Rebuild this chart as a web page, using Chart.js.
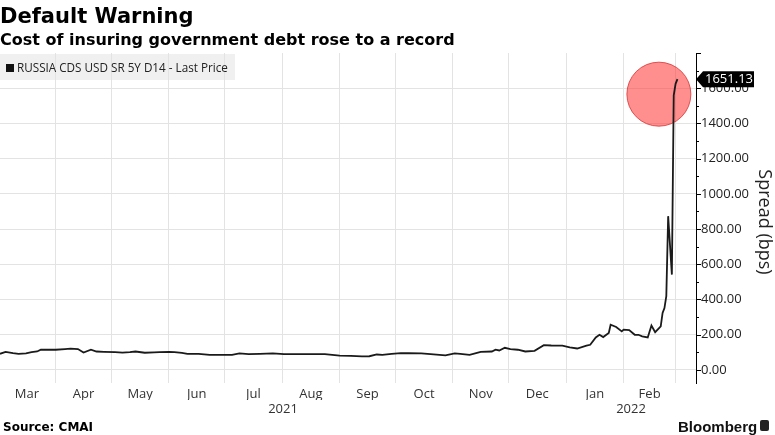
<!DOCTYPE html>
<html>
<head>
<meta charset="utf-8">
<script src="https://cdn.jsdelivr.net/npm/chart.js@4"></script>
<style>
html,body{margin:0;padding:0;background:#fff;}
#wrap{position:relative;width:775px;height:435px;overflow:hidden;}
#c{position:absolute;left:0;top:0;}
.t{position:absolute;white-space:nowrap;color:#000;}
#title{left:0px;top:6px;font:bold 21px/21px "DejaVu Sans";}
#sub{left:0px;top:32px;font:bold 16px/16px "DejaVu Sans";}
#legend{left:0;top:54px;height:26px;font:11.7px/26px "Open Sans";color:#222;}
#legend i{display:inline-block;width:8px;height:8px;background:#111;margin:0 3px 0 6px;vertical-align:0px;}
#src{left:3px;top:421px;font:bold 12px/12px "DejaVu Sans";}
#bbg{left:678px;top:419px;font:bold 15px/15px "Liberation Sans";color:#111;}
#logo{position:absolute;left:760px;top:420px;width:9px;height:11px;background:#222;border-radius:2px;}
</style>
</head>
<body>
<div id="wrap">
<canvas id="c" width="775" height="435"></canvas>
<div class="t" id="title">Default Warning</div>
<div class="t" id="sub">Cost of insuring government debt rose to a record</div>
<div class="t" id="legend"><i></i>RUSSIA CDS USD SR 5Y D14 - Last Price</div>
<div class="t" id="src">Source: CMAI</div>
<div class="t" id="bbg">Bloomberg</div>
<div id="logo"></div>
</div>
<script>
// ---- data ----
const dates = [
 '2021-03-02','2021-03-05','2021-03-09','2021-03-12','2021-03-16','2021-03-19','2021-03-22','2021-03-24','2021-03-29',
 '2021-04-01','2021-04-06','2021-04-09','2021-04-13','2021-04-16','2021-04-20','2021-04-23','2021-04-27',
 '2021-05-03','2021-05-07','2021-05-11','2021-05-14','2021-05-19','2021-05-24','2021-05-27',
 '2021-06-01','2021-06-04','2021-06-08','2021-06-11','2021-06-17','2021-06-23','2021-06-29',
 '2021-07-05','2021-07-09','2021-07-14','2021-07-20','2021-07-27',
 '2021-08-02','2021-08-10','2021-08-17','2021-08-24',
 '2021-09-01','2021-09-07','2021-09-13','2021-09-17','2021-09-21','2021-09-24','2021-09-29',
 '2021-10-04','2021-10-08','2021-10-15','2021-10-20','2021-10-28',
 '2021-11-02','2021-11-05','2021-11-10','2021-11-16','2021-11-22','2021-11-24','2021-11-26','2021-11-29',
 '2021-12-02','2021-12-06','2021-12-10','2021-12-15','2021-12-20','2021-12-24','2021-12-30',
 '2022-01-03','2022-01-07','2022-01-12','2022-01-14','2022-01-17','2022-01-19','2022-01-21','2022-01-24','2022-01-25','2022-01-28','2022-01-31',
 '2022-02-01','2022-02-04','2022-02-07','2022-02-09','2022-02-11','2022-02-14','2022-02-16','2022-02-18','2022-02-21','2022-02-22','2022-02-23','2022-02-24','2022-02-25','2022-02-27','2022-02-28',
 '2022-03-01','2022-03-02'
];
const spread = [
 91,102,95,91,93,100,104,114,114,
 114,118,120,118,98,114,104,102,
 100,98,100,104,97,99,100,
 101,100,96,91,91,85,85,
 85,93,89,91,93,
 89,89,89,89,
 80,79,76,77,87,85,91,
 95,94,93,89,82,
 93,90,85,102,104,114,110,125,
 118,114,104,108,140,138,137,
 127,121,137,142,184,199,186,209,256,243,218,
 228,226,199,199,190,184,252,214,247,323,351,418,873,541,1560,
 1625,1651.13
];
const monthLabels = ['Mar','Apr','May','Jun','Jul','Aug','Sep','Oct','Nov','Dec','Jan','Feb'];
const monthStarts = ['2021-03-01','2021-04-01','2021-05-01','2021-06-01','2021-07-01','2021-08-01','2021-09-01','2021-10-01','2021-11-01','2021-12-01','2022-01-01','2022-02-01','2022-03-01'];
const yearLabels = ['2021','2022'];
const yearStarts = ['2021-01-01','2022-01-01','2023-01-01'];
const viewStart = '2021-03-02', viewEnd = '2022-03-12';
const yTickValues = [0,100,200,300,400,500,600,700,800,900,1000,1100,1200,1300,1400,1500,1600,1700,1800];
const yMin = -75, yMax = 1800;
const yTitle = 'Spread (bps)';
const markerDate = '2022-02-20', markerValue = 1566;

// ---- helpers ----
const DAY = 86400000, BASE = Date.UTC(2021,2,1);
function dayOf(s){const p=s.split('-').map(Number);return (Date.UTC(p[0],p[1]-1,p[2])-BASE)/DAY;}
const xMin = dayOf(viewStart), xMax = dayOf(viewEnd);
const gridDays = monthStarts.map(dayOf).filter(d=>d>xMin && d<xMax);
const monthMid = monthLabels.map((_,i)=>(dayOf(monthStarts[i])+dayOf(monthStarts[i+1]))/2);
const yearMid = yearLabels.map((_,i)=>(Math.max(xMin,dayOf(yearStarts[i]))+Math.min(xMax,dayOf(yearStarts[i+1])))/2);
const points = dates.map((d,i)=>({x:dayOf(d),y:spread[i]}));

const GRID = '#e3e3e3';
const FONT = 'Open Sans';

function noPad(s){s.paddingLeft=0;s.paddingRight=0;s.paddingTop=0;s.paddingBottom=0;}

const deco = {
  id:'deco',
  beforeDraw(chart){
    const ctx=chart.ctx; ctx.save();
    ctx.fillStyle='#f0f0f0'; ctx.fillRect(0,54,235,26);
    ctx.restore();
  },
  afterDraw(chart){
    const ctx=chart.ctx, y=chart.scales.y, x0=y.left;
    ctx.save();
    ctx.strokeStyle='#000'; ctx.lineWidth=1;
    yTickValues.forEach(v=>{
      const py=Math.round(y.getPixelForValue(v))+0.5;
      const len = v%200===0?5:3;
      ctx.beginPath(); ctx.moveTo(x0,py); ctx.lineTo(x0+len,py); ctx.stroke();
    });
    const last = spread[spread.length-1];
    const py = y.getPixelForValue(last);
    ctx.fillStyle='#000';
    ctx.beginPath();
    ctx.moveTo(x0,py); ctx.lineTo(x0+7,py-8); ctx.lineTo(x0+58,py-8); ctx.lineTo(x0+58,py+8); ctx.lineTo(x0+7,py+8); ctx.closePath(); ctx.fill();
    ctx.fillStyle='#fff'; ctx.font='13px "'+FONT+'"'; ctx.textBaseline='middle'; ctx.textAlign='left';
    ctx.fillText(last.toFixed(2), x0+9, py+0.5);
    // axis title
    ctx.fillStyle='#222'; ctx.font='18px "'+FONT+'"'; ctx.textAlign='center';
    ctx.translate(764, (y.top+y.bottom)/2+4); ctx.rotate(Math.PI/2);
    ctx.fillText(yTitle, 0, 0);
    ctx.restore();
  }
};

new Chart(document.getElementById('c'), {
  type:'line',
  data:{datasets:[
    {data:points, borderColor:'#1a1a1a', borderWidth:1.8, pointRadius:0, tension:0, fill:false},
    {type:'scatter', data:[{x:dayOf(markerDate), y:markerValue}], pointRadius:32, pointHoverRadius:32,
     backgroundColor:'rgba(255,60,60,0.58)', borderColor:'rgba(215,50,50,0.8)', borderWidth:1}
  ]},
  options:{
    responsive:false, animation:false, devicePixelRatio:1,
    layout:{autoPadding:false, padding:{top:53,left:0,right:0,bottom:18}},
    plugins:{legend:{display:false}, tooltip:{enabled:false}},
    events:[],
    scales:{
      x:{type:'linear', position:'bottom', min:xMin, max:xMax, weight:0,
        afterBuildTicks:s=>{s.ticks=gridDays.map(v=>({value:v}));},
        ticks:{display:false},
        grid:{color:GRID, lineWidth:1, drawTicks:false},
        border:{display:false},
        afterFit:s=>{s.height=0;noPad(s);}},
      xm:{type:'linear', position:'bottom', min:xMin, max:xMax, weight:1,
        afterBuildTicks:s=>{s.ticks=monthMid.map(v=>({value:v}));},
        ticks:{autoSkip:false, maxRotation:0, padding:3, color:'#333', font:{family:FONT,size:13}, callback:(v,i)=>monthLabels[i]},
        grid:{display:false, drawTicks:false}, border:{display:false},
        afterFit:s=>{s.height=17;noPad(s);}},
      xy:{type:'linear', position:'bottom', min:xMin, max:xMax, weight:2,
        afterBuildTicks:s=>{s.ticks=yearMid.map(v=>({value:v}));},
        ticks:{autoSkip:false, maxRotation:0, padding:1, color:'#333', font:{family:FONT,size:13}, callback:(v,i)=>yearLabels[i]},
        grid:{display:false, drawTicks:false}, border:{display:false},
        afterFit:s=>{s.height=17;noPad(s);}},
      y:{type:'linear', position:'right', min:yMin, max:yMax,
        afterBuildTicks:s=>{s.ticks=yTickValues.map(v=>({value:v}));},
        ticks:{autoSkip:false, padding:5, color:'#222', font:{family:FONT,size:13},
          callback:v=>(v%200===0 && v<yMax)?v.toFixed(2):''},
        grid:{drawTicks:false, color:c=>(c.tick && c.tick.value%200===0 && c.tick.value<yMax)?GRID:'rgba(0,0,0,0)'},
        border:{display:true, color:'#000', width:1},
        afterFit:s=>{s.width=79;noPad(s);}}
    }
  },
  plugins:[deco]
});
</script>
</body>
</html>
